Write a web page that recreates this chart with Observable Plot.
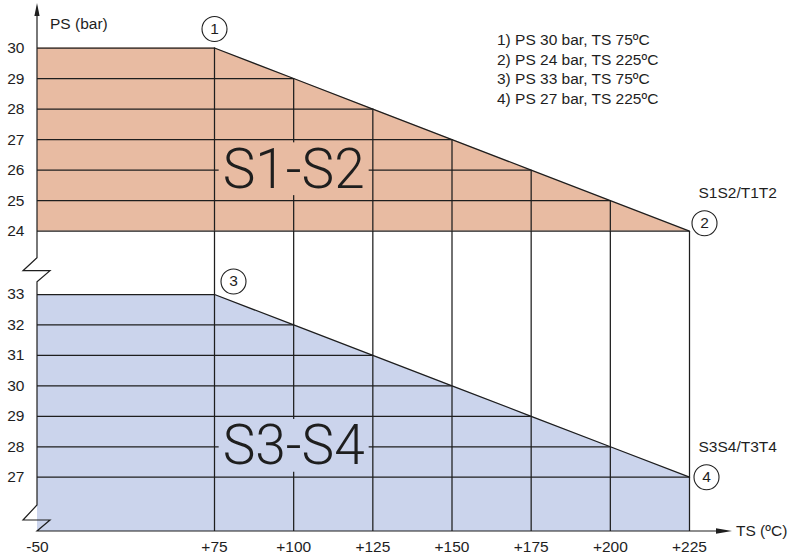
<!DOCTYPE html>
<html>
<head>
<meta charset="utf-8">
<script src="https://cdn.jsdelivr.net/npm/d3@7"></script>
<script src="https://cdn.jsdelivr.net/npm/@observablehq/plot@0.6"></script>
<style>
  body { margin: 0; background: #fff; }
  #chart { position: relative; width: 788px; height: 558px; font-family: "Liberation Sans", Arial, sans-serif; }
  #chart svg { position: absolute; left: 0; top: 0; overflow: visible; }
  #legend { position: absolute; left: 497px; top: 30px; font-size: 15.5px; line-height: 19.5px; color: #1e1e1e; white-space: pre; }
</style>
</head>
<body>
<div id="chart"><div id="legend"></div></div>
<script>
// ---- data ----
const tsStart = -50;
const tsBreak = [75, 100, 125, 150, 175, 200, 225];
const psS1S2 = [30, 29, 28, 27, 26, 25, 24];
const psS3S4 = [33, 32, 31, 30, 29, 28, 27];
const tsTicks = [-50, 75, 100, 125, 150, 175, 200, 225];
const tsTickLabels = ["-50", "+75", "+100", "+125", "+150", "+175", "+200", "+225"];
const psTicksTop = [24, 25, 26, 27, 28, 29, 30];
const psTicksBottom = [27, 28, 29, 30, 31, 32, 33];
const panelLabels = ["S1-S2", "S3-S4"];
const panelLabelPos = [{ts: 100, ps: 26}, {ts: 100, ps: 28}];
const sideLabels = ["S1S2/T1T2", "S3S4/T3T4"];
const markerIds = ["1", "2", "3", "4"];
const legendLines = ["1) PS 30 bar, TS 75ºC", "2) PS 24 bar, TS 225ºC", "3) PS 33 bar, TS 75ºC", "4) PS 27 bar, TS 225ºC"];
const yAxisTitle = "PS (bar)";
const xAxisTitle = "TS (ºC)";

// ---- style ----
const W = 788, H = 558;
const FONT = '"Liberation Sans", Arial, sans-serif';
const ink = "#1e1e1e";
const topFill = "#e8bba2";
const bottomFill = "#cbd4ec";
const lw = 1.25;

const gridTop = tsBreak.map((ts, i) => ({ts, ps: psS1S2[i]}));
const gridBottom = tsBreak.map((ts, i) => ({ts, ps: psS3S4[i]}));
const areaTop = [{ts: tsStart, ps: psS1S2[0]}, ...gridTop];
const areaBottom = [{ts: tsStart, ps: psS3S4[0]}, ...gridBottom];

const xScale = {type: "linear", domain: [tsStart, tsBreak[0], tsBreak[tsBreak.length - 1]], range: [37, 214, 689]};
const baseStyle = {fontFamily: FONT, fontSize: "15.5px", color: ink, background: "transparent", overflow: "visible"};

function marker(p, id, dx, dy) {
  return [
    Plot.dot([p], {x: "ts", y: "ps", r: 12.5, fill: "white", stroke: ink, strokeWidth: 1.1, dx, dy}),
    Plot.text([p], {x: "ts", y: "ps", text: () => id, dx, dy, fontSize: 15.5, fill: ink})
  ];
}

const p1 = gridTop[0], p2 = gridTop[gridTop.length - 1];
const p3 = gridBottom[0], p4 = gridBottom[gridBottom.length - 1];
const bigText = {fontSize: 55, fontWeight: 300, fontFamily: "Roboto, 'Liberation Sans', sans-serif", fill: ink, className: "big-label"};

const plotA = Plot.plot({
  width: W, height: H,
  marginLeft: 37, marginRight: 99, marginTop: 0, marginBottom: 0,
  style: baseStyle,
  x: {...xScale, axis: null},
  y: {domain: [d3.min(psS1S2), d3.max(psS1S2)], range: [230.7, 47.5]},
  marks: [
    Plot.areaY(areaTop, {x: "ts", y1: d3.min(psS1S2), y2: "ps", fill: topFill}),
    Plot.ruleY(gridTop, {y: "ps", x1: tsStart, x2: "ts", stroke: ink, strokeWidth: lw}),
    Plot.ruleX(gridTop, {x: "ts", y1: "ps", y2: d3.min(psS1S2), stroke: ink, strokeWidth: lw}),
    Plot.line(gridTop, {x: "ts", y: "ps", stroke: ink, strokeWidth: lw}),
    Plot.text([panelLabelPos[0]], {x: "ts", y: "ps", text: () => panelLabels[0], dy: 0, ...bigText}),
    Plot.axisY({ticks: psTicksTop, tickSize: 0, tickPadding: 13, label: null, tickFormat: d => String(d)}),
    ...marker(p1, markerIds[0], 0, -19),
    ...marker(p2, markerIds[1], 15, -8),
    Plot.text([p2], {x: "ts", y: "ps", text: () => sideLabels[0], dx: 9, dy: -38, textAnchor: "start", fontSize: 15.5, fill: ink})
  ]
});

const plotB = Plot.plot({
  width: W, height: H,
  marginLeft: 37, marginRight: 99, marginTop: 231, marginBottom: 27,
  style: baseStyle,
  x: {...xScale},
  y: {domain: [d3.min(psS3S4), d3.max(psS3S4)], range: [476.7, 294]},
  marks: [
    Plot.areaY(areaBottom, {x: "ts", y: "ps", fill: bottomFill, clip: true}),
    Plot.ruleX(tsBreak, {stroke: ink, strokeWidth: lw}),
    Plot.ruleY(gridBottom, {y: "ps", x1: tsStart, x2: "ts", stroke: ink, strokeWidth: lw}),
    Plot.line(gridBottom, {x: "ts", y: "ps", stroke: ink, strokeWidth: lw}),
    Plot.text([panelLabelPos[1]], {x: "ts", y: "ps", text: () => panelLabels[1], dy: 0, ...bigText}),
    Plot.axisY({ticks: psTicksBottom, tickSize: 0, tickPadding: 13, label: null, tickFormat: d => String(d)}),
    Plot.axisX({ticks: tsTicks, tickSize: 0, tickPadding: 9.5, label: null, tickFormat: d => tsTickLabels[tsTicks.indexOf(d)]}),
    ...marker(p3, markerIds[2], 19, -13),
    ...marker(p4, markerIds[3], 17, 0),
    Plot.text([p4], {x: "ts", y: "ps", text: () => sideLabels[1], dx: 9, dy: -30, textAnchor: "start", fontSize: 15.5, fill: ink})
  ]
});

const chart = document.getElementById("chart");
chart.appendChild(plotA);
chart.appendChild(plotB);
document.getElementById("legend").textContent = legendLines.join("\n");

// boxes behind the big panel labels (hide grid lines like the original)
function boxLabels(svg, fill) {
  svg.querySelectorAll("g.big-label text").forEach(t => {
    const bb = t.getBBox();
    const fs = 55;
    const cy = bb.y + bb.height / 2;
    const r = document.createElementNS("http://www.w3.org/2000/svg", "rect");
    r.setAttribute("x", bb.x - 4);
    r.setAttribute("width", bb.width + 8);
    r.setAttribute("y", cy - 0.48 * fs);
    r.setAttribute("height", 0.96 * fs);
    r.setAttribute("fill", fill);
    const tr = t.getAttribute("transform");
    if (tr) r.setAttribute("transform", tr);
    t.parentNode.insertBefore(r, t);
  });
}
boxLabels(plotA, topFill);
boxLabels(plotB, bottomFill);

// axis lines, breaks and arrows
const sx = plotB.scale("x");
const x0 = sx.apply(tsStart);
const yTopBottom = plotA.scale("y").apply(d3.min(psS1S2));
const yBase = H - 27;
const deco = d3.select(chart).append("svg").attr("width", W).attr("height", H);
deco.append("path")
  .attr("d", `M${x0},8 V${yTopBottom + 27} L${x0 - 14},${yTopBottom + 40} H${x0 + 13} L${x0},${yTopBottom + 51} V${yBase - 26} L${x0 - 14},${yBase - 11} H${x0 + 13} L${x0},${yBase} H${720}`)
  .attr("fill", "none").attr("stroke", ink).attr("stroke-width", 1.2);
deco.append("path").attr("d", `M${x0},3 L${x0 - 2.6},16 L${x0 + 2.6},16 Z`).attr("fill", ink);
deco.append("path").attr("d", `M732,${yBase} L716,${yBase - 2.8} L716,${yBase + 2.8} Z`).attr("fill", ink);
deco.append("text").attr("x", x0 + 13).attr("y", 24).attr("dy", "0.35em")
  .attr("font-family", FONT).attr("font-size", 15.5).attr("fill", ink).text(yAxisTitle);
deco.append("text").attr("x", 736).attr("y", yBase).attr("dy", "0.35em")
  .attr("font-family", FONT).attr("font-size", 15.5).attr("fill", ink).text(xAxisTitle);
</script>
</body>
</html>
